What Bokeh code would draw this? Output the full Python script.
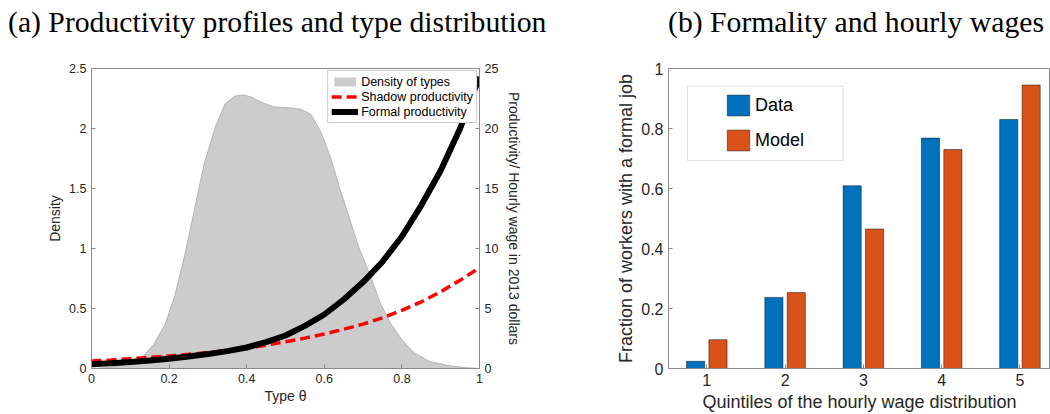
from bokeh.plotting import figure
from bokeh.models import Range1d, LinearAxis, Legend, LegendItem, FixedTicker, BoxAnnotation, Div
from bokeh.layouts import row, column
from bokeh.embed import file_html
from bokeh.resources import INLINE
from bokeh.transform import dodge

# ---------------- data: panel (a) ----------------
theta_density = [0.0, 0.05, 0.1, 0.13, 0.16, 0.19, 0.215, 0.24, 0.265, 0.29, 0.32, 0.345,
                 0.37, 0.39, 0.41, 0.44, 0.47, 0.51, 0.54, 0.565, 0.59, 0.615, 0.64, 0.665,
                 0.69, 0.72, 0.745, 0.77, 0.80, 0.83, 0.87, 0.92, 0.96, 1.0]
density = [0.0, 0.01, 0.04, 0.09, 0.2, 0.37, 0.61, 0.94, 1.32, 1.70, 2.02, 2.21,
           2.27, 2.28, 2.265, 2.215, 2.18, 2.172, 2.16, 2.12, 1.98, 1.77, 1.50, 1.25,
           1.0, 0.76, 0.54, 0.38, 0.24, 0.135, 0.06, 0.025, 0.008, 0.0]

theta_prod = [0.0, 0.05, 0.1, 0.15, 0.2, 0.25, 0.3, 0.35, 0.4, 0.45, 0.5,
              0.55, 0.6, 0.65, 0.7, 0.75, 0.8, 0.85, 0.9, 0.95, 1.0]
shadow_prod = [0.62, 0.71, 0.82, 0.93, 1.05, 1.18, 1.33, 1.5, 1.7, 1.95, 2.23,
               2.53, 2.88, 3.27, 3.7, 4.22, 4.85, 5.55, 6.4, 7.35, 8.4]
formal_prod = [0.35, 0.44, 0.55, 0.67, 0.82, 1.0, 1.2, 1.45, 1.75, 2.2, 2.75,
               3.55, 4.5, 5.75, 7.2, 8.9, 11.0, 13.6, 16.5, 20.0, 24.3]

theta_ticks = [0, 0.2, 0.4, 0.6, 0.8, 1]
density_ticks = [0, 0.5, 1, 1.5, 2, 2.5]
wage_ticks = [0, 5, 10, 15, 20, 25]

# ---------------- data: panel (b) ----------------
quintiles = [1, 2, 3, 4, 5]
data_share = [0.024, 0.237, 0.609, 0.768, 0.830]
model_share = [0.096, 0.253, 0.465, 0.730, 0.945]
share_ticks = [0, 0.2, 0.4, 0.6, 0.8, 1]

title_a = "(a) Productivity profiles and type distribution"
title_b = "(b) Formality and hourly wages"

SANS = "Liberation Sans"
SERIF = "Liberation Serif"
TXT = "#262626"
AX = "#8a8a8a"
TITLE_H = 40


def fmt(ticks):
    return {t: ("%g" % t) for t in ticks}


def style_axis(ax, ticks, tick_size, label_size, standoff):
    ax.ticker = FixedTicker(ticks=ticks)
    ax.major_label_overrides = fmt(ticks)
    ax.minor_tick_line_color = None
    ax.major_tick_in = 4
    ax.major_tick_out = 0
    ax.major_tick_line_color = AX
    ax.axis_line_color = AX
    ax.major_label_text_font = SANS
    ax.major_label_text_font_size = tick_size
    ax.major_label_text_color = TXT
    ax.major_label_standoff = 5
    ax.axis_label_text_font = SANS
    ax.axis_label_text_font_size = label_size
    ax.axis_label_text_font_style = "normal"
    ax.axis_label_text_color = TXT
    ax.axis_label_standoff = standoff


def title_div(text, width, pad_left):
    html = ('<div style="font-family:\'%s\';font-size:29.7px;line-height:1;color:black;'
            'white-space:nowrap;padding-top:8px;padding-left:%dpx;margin:0">%s</div>'
            % (SERIF, pad_left, text))
    return Div(text=html, width=width, height=TITLE_H, margin=(0, 0, 0, 0))


# ---------------- panel (a) ----------------
p1 = figure(width=553, height=414 - TITLE_H, x_range=Range1d(0, 1), y_range=Range1d(0, 2.5),
            output_backend="svg", toolbar_location=None, title=None,
            min_border_left=91, min_border_right=74, min_border_top=68 - TITLE_H,
            min_border_bottom=40)
p1.extra_y_ranges = {"wage": Range1d(0, 25)}
p1.grid.visible = False
p1.outline_line_color = AX
p1.background_fill_color = "white"
p1.border_fill_color = "white"

area = p1.varea(x=theta_density, y1=0, y2=density, fill_color="#cccccc")
p1.line(theta_density, density, line_color="#a8a8a8", line_width=0.8)
shadow = p1.line(theta_prod, shadow_prod, y_range_name="wage", line_color="#ff0000",
                 line_width=3.5, line_dash="10 5")
formal = p1.line(theta_prod, formal_prod, y_range_name="wage", line_color="black",
                 line_width=6)

style_axis(p1.xaxis[0], theta_ticks, "12.5px", "14px", 2)
p1.xaxis[0].axis_label = "Type θ"
style_axis(p1.yaxis[0], density_ticks, "12.5px", "14px", 3)
p1.yaxis[0].axis_label = "Density"

rax = LinearAxis(y_range_name="wage", axis_label="Productivity/ Hourly wage in 2013 dollars")
style_axis(rax, wage_ticks, "12.5px", "14px", 5)
p1.add_layout(rax, "right")

leg1 = Legend(items=[LegendItem(label="Density of types", renderers=[area]),
                     LegendItem(label="Shadow productivity", renderers=[shadow]),
                     LegendItem(label="Formal productivity", renderers=[formal])],
              location="top_right", padding=3, margin=2, spacing=0,
              glyph_width=27, glyph_height=11, label_height=15, label_standoff=3,
              label_text_font=SANS, label_text_font_size="12.5px", label_text_color="black",
              border_line_color="#9a9a9a", border_line_width=1,
              background_fill_color="white", background_fill_alpha=1)
p1.add_layout(leg1)

# ---------------- panel (b) ----------------
p2 = figure(width=497, height=414 - TITLE_H, x_range=Range1d(0.511, 5.39), y_range=Range1d(0, 1),
            output_backend="svg", toolbar_location=None, title=None,
            min_border_left=115, min_border_right=0, min_border_top=68 - TITLE_H,
            min_border_bottom=46)
p2.grid.visible = False
p2.outline_line_color = AX
p2.background_fill_color = "white"
p2.border_fill_color = "white"

src = dict(q=quintiles, d=data_share, m=model_share)
bd = p2.vbar(x=dodge("q", -0.143), top="d", width=0.232, bottom=0, source=src,
             fill_color="#0072BD", line_color="black", line_alpha=0.45, line_width=1)
bm = p2.vbar(x=dodge("q", 0.143), top="m", width=0.232, bottom=0, source=src,
             fill_color="#D95319", line_color="black", line_alpha=0.45, line_width=1)

style_axis(p2.xaxis[0], quintiles, "16px", "18px", 3)
p2.xaxis[0].axis_label = "Quintiles of the hourly wage distribution"
style_axis(p2.yaxis[0], share_ticks, "16px", "18px", 2)
p2.yaxis[0].axis_label = "Fraction of workers with a formal job"

p2.add_layout(BoxAnnotation(left=0.754, right=2.741, bottom=0.693, top=0.941,
                            fill_color="white", fill_alpha=1,
                            line_color="#9a9a9a", line_width=1, level="overlay"))
leg2 = Legend(items=[LegendItem(label="Data", renderers=[bd]),
                     LegendItem(label="Model", renderers=[bm])],
              location=(56, 215), padding=0, margin=0, spacing=9,
              glyph_width=28, glyph_height=26, label_height=26, label_standoff=3,
              label_text_font=SANS, label_text_font_size="18px", label_text_color="black",
              border_line_color=None, background_fill_alpha=0)
p2.add_layout(leg2)

layout = column(row(title_div(title_a, 553, 8), title_div(title_b, 497, 115)),
                row(p1, p2))
open("out.html", "w").write(file_html(layout, INLINE))
